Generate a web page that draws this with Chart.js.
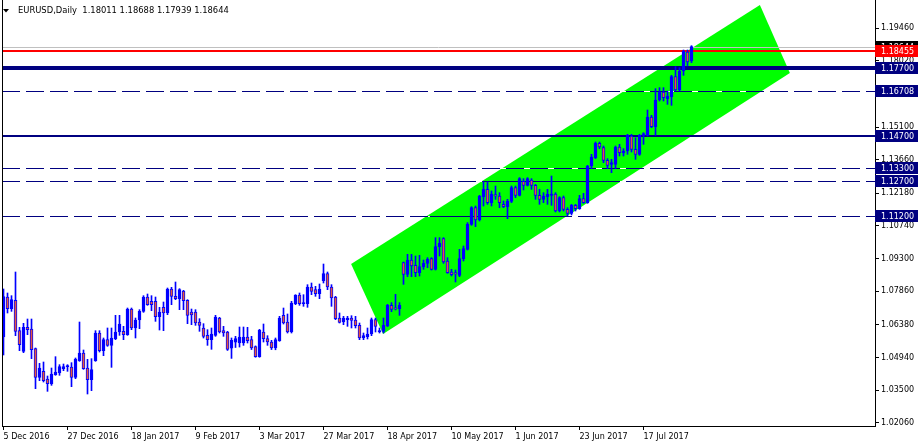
<!DOCTYPE html>
<html>
<head>
<meta charset="utf-8">
<script src="https://cdn.jsdelivr.net/npm/chart.js@4.4.0/dist/chart.umd.min.js"></script>
<style>
  html, body { margin: 0; padding: 0; background: #fff; }
</style>
</head>
<body>
<canvas id="chart" width="918" height="448"></canvas>
<script>
// EURUSD daily candles, 5 Dec 2016 .. 2 Aug 2017 (one entry per trading day)
const opens = [
  1.05850,1.07607,1.07092,1.07459,1.06122,1.05211,1.06269,1.06195,1.05329,1.04064,
  1.04329,1.03991,1.03770,1.04182,1.04255,1.04447,1.04535,1.04520,1.04064,1.04799,
  1.05137,1.04476,1.03961,1.04799,1.06019,1.05240,1.05725,1.05476,1.05769,1.06063,
  1.06092,1.05946,1.07077,1.06240,1.06592,1.06974,1.07606,1.07415,1.07415,1.06739,
  1.07151,1.06901,1.07959,1.07636,1.07533,1.07871,1.07459,1.06945,1.06945,1.06504,
  1.06240,1.05916,1.05725,1.05916,1.06680,1.06122,1.06063,1.05350,1.05620,1.05578,
  1.05578,1.05843,1.05725,1.05417,1.04976,1.06063,1.05769,1.05622,1.05358,1.05681,
  1.06798,1.06504,1.06063,1.07313,1.07695,1.07313,1.07313,1.08047,1.07930,1.07753,
  1.08327,1.08635,1.08047,1.07606,1.06680,1.06504,1.06607,1.06680,1.06592,1.06357,
  1.05799,1.05857,1.05975,1.06607,1.06063,1.06093,1.06328,1.07240,1.07120,1.07093,
  1.09120,1.08606,1.09238,1.09002,1.08679,1.08944,1.09091,1.09297,1.08826,1.09826,
  1.10179,1.09194,1.08709,1.08679,1.08562,1.09297,1.09708,1.10811,1.11546,1.11003,
  1.12030,1.12354,1.11766,1.12119,1.12060,1.11693,1.11590,1.11825,1.12428,1.12090,
  1.12707,1.12531,1.12766,1.12531,1.12090,1.11913,1.12031,1.12090,1.12148,1.11399,
  1.11987,1.11472,1.11296,1.11649,1.11502,1.11943,1.11766,1.13383,1.13751,1.14382,
  1.14191,1.13633,1.13457,1.13457,1.14221,1.13971,1.14044,1.14706,1.14118,1.13898,
  1.14735,1.14735,1.15543,1.15117,1.16293,1.16646,1.16352,1.16440,1.17322,1.16734,
  1.17571,1.18409,1.18011
];
const highs = [
  1.07960,1.07783,1.07665,1.08709,1.06269,1.06445,1.06636,1.06636,1.05358,1.04682,
  1.04741,1.04123,1.04476,1.04976,1.04623,1.04652,1.04623,1.04711,1.04917,1.06504,
  1.05270,1.04858,1.04888,1.06122,1.06122,1.05799,1.06240,1.06240,1.06798,1.06798,
  1.06313,1.07121,1.07121,1.06680,1.07048,1.07665,1.07739,1.07665,1.07606,1.07151,
  1.07386,1.08003,1.08033,1.08268,1.07974,1.07900,1.07489,1.07077,1.07048,1.06651,
  1.06431,1.06166,1.06240,1.06798,1.06710,1.06313,1.06093,1.05800,1.05872,1.06284,
  1.06284,1.06269,1.05872,1.05450,1.06180,1.06416,1.05901,1.05696,1.05799,1.06754,
  1.07121,1.06857,1.07415,1.07709,1.07783,1.07709,1.08150,1.08224,1.08077,1.08180,
  1.09061,1.08709,1.08150,1.07636,1.06901,1.06754,1.06754,1.06783,1.06754,1.06460,
  1.06019,1.06240,1.06680,1.06680,1.06240,1.06680,1.07284,1.07357,1.07724,1.07357,
  1.09150,1.09488,1.09488,1.09414,1.09444,1.09238,1.09341,1.09341,1.10223,1.10223,
  1.10223,1.09341,1.08826,1.08797,1.09708,1.09856,1.10885,1.11590,1.11620,1.12090,
  1.12678,1.12678,1.12281,1.12501,1.12207,1.11840,1.11913,1.12501,1.12501,1.12869,
  1.12825,1.12869,1.12825,1.12575,1.12354,1.12207,1.12354,1.12942,1.12207,1.12031,
  1.12060,1.11546,1.11693,1.11693,1.12090,1.12178,1.13413,1.13898,1.14441,1.14441,
  1.14265,1.13707,1.13677,1.14265,1.14338,1.14147,1.14779,1.14779,1.14632,1.14779,
  1.14853,1.15852,1.15617,1.16793,1.16837,1.16837,1.16690,1.17380,1.17763,1.17718,
  1.18497,1.18497,1.18688
];
const lows = [
  1.05050,1.06901,1.06974,1.05902,1.05240,1.05152,1.05946,1.04888,1.03565,1.03917,
  1.03859,1.03447,1.03711,1.04153,1.04153,1.04359,1.04329,1.03653,1.04005,1.04770,
  1.04417,1.03330,1.03477,1.04770,1.05181,1.05020,1.05432,1.04505,1.05725,1.05916,
  1.05725,1.05916,1.06166,1.05799,1.06210,1.06930,1.07239,1.07004,1.06533,1.06151,
  1.06122,1.06827,1.07268,1.07489,1.07047,1.07048,1.06431,1.06387,1.06357,1.06093,
  1.05799,1.05475,1.05300,1.05872,1.06019,1.05872,1.05250,1.04900,1.05380,1.05400,
  1.05475,1.05578,1.05290,1.04950,1.04950,1.05622,1.05475,1.05290,1.05280,1.05652,
  1.06416,1.06019,1.06019,1.07268,1.07239,1.07195,1.07151,1.07709,1.07636,1.07533,
  1.08224,1.07930,1.07195,1.06607,1.06460,1.06387,1.06313,1.06240,1.06240,1.05725,
  1.05725,1.05755,1.05901,1.06063,1.06019,1.06019,1.06299,1.06960,1.07034,1.06798,
  1.08164,1.08503,1.08503,1.08503,1.08532,1.08826,1.08900,1.08797,1.08797,1.09414,
  1.09091,1.08650,1.08532,1.08268,1.08503,1.09194,1.09679,1.10767,1.10709,1.10958,
  1.11619,1.11693,1.11619,1.11913,1.11546,1.11546,1.11061,1.11766,1.11987,1.12060,
  1.12325,1.12501,1.12354,1.11913,1.11693,1.11766,1.11693,1.11649,1.11355,1.11355,
  1.11399,1.11179,1.11223,1.11399,1.11472,1.11737,1.11737,1.13266,1.13707,1.14147,
  1.13530,1.13266,1.13089,1.13266,1.13824,1.13824,1.13898,1.14000,1.13677,1.13853,
  1.14338,1.14706,1.15073,1.14735,1.16249,1.16249,1.16102,1.16058,1.16690,1.16690,
  1.17380,1.17792,1.17939
];
const closes = [
  1.07630,1.07091,1.07489,1.06093,1.05505,1.06269,1.06166,1.05284,1.04064,1.04476,
  1.03917,1.03785,1.04211,1.04300,1.04535,1.04535,1.04550,1.04064,1.04873,1.05137,
  1.04446,1.03961,1.04402,1.06019,1.05240,1.05725,1.05476,1.05799,1.06063,1.06416,
  1.05946,1.07077,1.06240,1.06592,1.06974,1.07606,1.07268,1.07268,1.06739,1.06945,
  1.06901,1.07959,1.07636,1.07533,1.07930,1.07445,1.06798,1.06820,1.06460,1.06357,
  1.05872,1.05725,1.05975,1.06725,1.06063,1.06019,1.05300,1.05700,1.05770,1.05843,
  1.05843,1.05681,1.05358,1.04976,1.06151,1.05769,1.05622,1.05358,1.05725,1.06680,
  1.06460,1.06063,1.07342,1.07695,1.07313,1.07342,1.08047,1.07856,1.07753,1.07959,
  1.08635,1.08047,1.07562,1.06651,1.06489,1.06680,1.06680,1.06578,1.06342,1.05799,
  1.05901,1.05975,1.06607,1.06313,1.06122,1.06357,1.07240,1.07063,1.07080,1.07240,
  1.08606,1.09238,1.08973,1.08679,1.08944,1.09091,1.09267,1.08826,1.09826,1.09973,
  1.09150,1.08679,1.08591,1.08620,1.09297,1.09738,1.10811,1.11546,1.11003,1.12060,
  1.12354,1.11766,1.12134,1.12060,1.11766,1.11590,1.11840,1.12428,1.12090,1.12825,
  1.12531,1.12825,1.12531,1.12090,1.11913,1.12060,1.12134,1.12148,1.11399,1.11987,
  1.11472,1.11296,1.11649,1.11502,1.11943,1.11766,1.13383,1.13780,1.14382,1.14221,
  1.13633,1.13413,1.13530,1.14221,1.13971,1.14044,1.14735,1.14118,1.13898,1.14735,
  1.14809,1.15543,1.15117,1.16293,1.16646,1.16396,1.16470,1.17322,1.16734,1.17571,
  1.18453,1.17968,1.18644
];

const xTickIdx = [0, 16, 32, 48, 64, 80, 96, 112, 128, 144, 160];
const xTickLabels = ['5 Dec 2016', '27 Dec 2016', '18 Jan 2017', '9 Feb 2017', '3 Mar 2017',
  '27 Mar 2017', '18 Apr 2017', '10 May 2017', '1 Jun 2017', '23 Jun 2017', '17 Jul 2017'];
const yTickValues = [1.19460, 1.18020, 1.16580, 1.15100, 1.13660, 1.12180, 1.10740,
  1.09300, 1.07860, 1.06380, 1.04940, 1.03500, 1.02060];

// horizontal levels drawn on the chart
const levelPrices = [1.17700, 1.16708, 1.14700, 1.13300, 1.12700, 1.11200];
const redLinePrice = 1.18455;
const bidPrice = 1.18644;
// rising channel corners (bar index, price)
const channelIdx = [86.9, 94.9, 196.6, 189.1];
const channelPrice = [1.09062, 1.05975, 1.17483, 1.20482];
// short solid segments on two of the levels (price, from bar, to bar)
const segPrice = [1.12700, 1.11200];
const segFrom = [119.9, 106.6];
const segTo = [154.1, 141.6];

const title = 'EURUSD,Daily  1.18011 1.18688 1.17939 1.18644';

const BLUE = '#0000ff';
const NAVY = '#000080';
const BEAR = '#e8583c';
const FONT = { family: 'DejaVu Sans', size: 8 };

const idx = opens.map((_, i) => i);
const bodies = idx.map(i => ({ x: i, y: [opens[i], closes[i]] }));
const wicks = idx.map(i => ({ x: i, y: [lows[i], highs[i]] }));
const bodyFill = idx.map(i => closes[i] >= opens[i] ? BLUE : BEAR);

function hline(ctx, a, py, w, color, dash) {
  ctx.save();
  ctx.lineWidth = w;
  const yy = w % 2 ? Math.round(py) + 0.5 : Math.round(py);
  if (dash) {
    // GDI style dashes: gaps filled with the background colour
    ctx.strokeStyle = '#fff';
    ctx.beginPath(); ctx.moveTo(a.left, yy); ctx.lineTo(a.right, yy); ctx.stroke();
    ctx.setLineDash([18, 6]);
  }
  ctx.strokeStyle = color;
  ctx.beginPath(); ctx.moveTo(a.left, yy); ctx.lineTo(a.right, yy); ctx.stroke();
  ctx.restore();
}

function priceBox(ctx, py, bg, text) {
  const yy = Math.round(py);
  ctx.fillStyle = bg;
  ctx.fillRect(875, yy - 6, 43, 12);
  ctx.fillStyle = '#fff';
  ctx.font = '8px "DejaVu Sans"';
  ctx.textBaseline = 'middle';
  ctx.textAlign = 'left';
  ctx.fillText(text, 881, yy + 0.5);
}

function noPad(s) {
  s.paddingTop = 0; s.paddingBottom = 0; s.paddingLeft = 0; s.paddingRight = 0;
}

const overlay = {
  id: 'overlay',
  beforeDatasetsDraw(chart) {
    const { ctx, chartArea: a, scales: { x, y } } = chart;
    ctx.save();
    ctx.beginPath();
    ctx.rect(a.left, a.top, a.right - a.left, a.bottom - a.top);
    ctx.clip();

    ctx.fillStyle = '#00ff00';
    ctx.beginPath();
    channelIdx.forEach((v, k) => {
      const px = x.getPixelForValue(v), py = y.getPixelForValue(channelPrice[k]);
      if (k) ctx.lineTo(px, py); else ctx.moveTo(px, py);
    });
    ctx.closePath();
    ctx.fill();

    hline(ctx, a, y.getPixelForValue(bidPrice), 1, '#c0c0c0', false);
    hline(ctx, a, y.getPixelForValue(redLinePrice), 2, '#ff0000', false);
    const widths = [4, 1, 2, 1, 1, 1];
    const dashed = [false, true, false, true, true, true];
    levelPrices.forEach((p, k) => hline(ctx, a, y.getPixelForValue(p), widths[k], NAVY, dashed[k]));

    ctx.strokeStyle = NAVY;
    ctx.lineWidth = 1;
    segPrice.forEach((p, k) => {
      const yy = Math.round(y.getPixelForValue(p)) + 0.5;
      ctx.beginPath();
      ctx.moveTo(x.getPixelForValue(segFrom[k]), yy);
      ctx.lineTo(x.getPixelForValue(segTo[k]), yy);
      ctx.stroke();
    });
    ctx.restore();
  },
  afterDraw(chart) {
    const { ctx, chartArea: a, scales: { y } } = chart;
    ctx.save();
    // left frame line
    ctx.fillStyle = '#000';
    ctx.fillRect(a.left, 0, 1, a.bottom + 1);

    // title with the little menu triangle
    ctx.beginPath();
    ctx.moveTo(3, 9); ctx.lineTo(9, 9); ctx.lineTo(6, 12.5); ctx.closePath();
    ctx.fill();
    ctx.font = '8.4px "DejaVu Sans"';
    ctx.textBaseline = 'middle';
    ctx.textAlign = 'left';
    ctx.fillText(title, 18, 11);

    priceBox(ctx, y.getPixelForValue(bidPrice), '#000', bidPrice.toFixed(5));
    priceBox(ctx, y.getPixelForValue(redLinePrice), '#ff0000', redLinePrice.toFixed(5));
    levelPrices.forEach(p => priceBox(ctx, y.getPixelForValue(p), NAVY, p.toFixed(5)));
    ctx.restore();
  }
};

new Chart(document.getElementById('chart'), {
  type: 'bar',
  data: {
    datasets: [
      {
        data: bodies, order: 0, grouped: false,
        barThickness: 3, minBarLength: 1,
        backgroundColor: bodyFill, borderColor: BLUE, borderWidth: 1, borderSkipped: false
      },
      {
        data: wicks, order: 1, grouped: false,
        barThickness: 1, backgroundColor: BLUE, borderWidth: 0
      }
    ]
  },
  options: {
    responsive: false,
    devicePixelRatio: 1,
    animation: false,
    events: [],
    layout: { padding: { left: 2, top: 0, right: 0, bottom: 0 } },
    plugins: { legend: { display: false }, tooltip: { enabled: false } },
    scales: {
      x: {
        type: 'linear', min: -0.375, max: 217.875, offset: false, bounds: 'data',
        afterBuildTicks: s => { s.ticks = xTickIdx.map(v => ({ value: v })); },
        afterFit: s => { s.height = 22; noPad(s); },
        ticks: {
          autoSkip: false, maxRotation: 0, align: 'start', padding: 2,
          font: FONT, color: '#000',
          callback: (v, k) => xTickLabels[k]
        },
        grid: { drawOnChartArea: false, offset: false, tickLength: 4, tickColor: '#000' },
        border: { display: true, color: '#000' }
      },
      y: {
        position: 'right', min: 1.019189, max: 1.207019, bounds: 'data',
        afterBuildTicks: s => { s.ticks = yTickValues.map(v => ({ value: v })); },
        afterFit: s => { s.width = 43; noPad(s); },
        ticks: {
          autoSkip: false, padding: 2, crossAlign: 'near',
          font: FONT, color: '#000',
          callback: v => v.toFixed(5)
        },
        grid: { drawOnChartArea: false, tickLength: 4, tickColor: '#000' },
        border: { display: true, color: '#000' }
      }
    }
  },
  plugins: [overlay]
});
</script>
</body>
</html>
